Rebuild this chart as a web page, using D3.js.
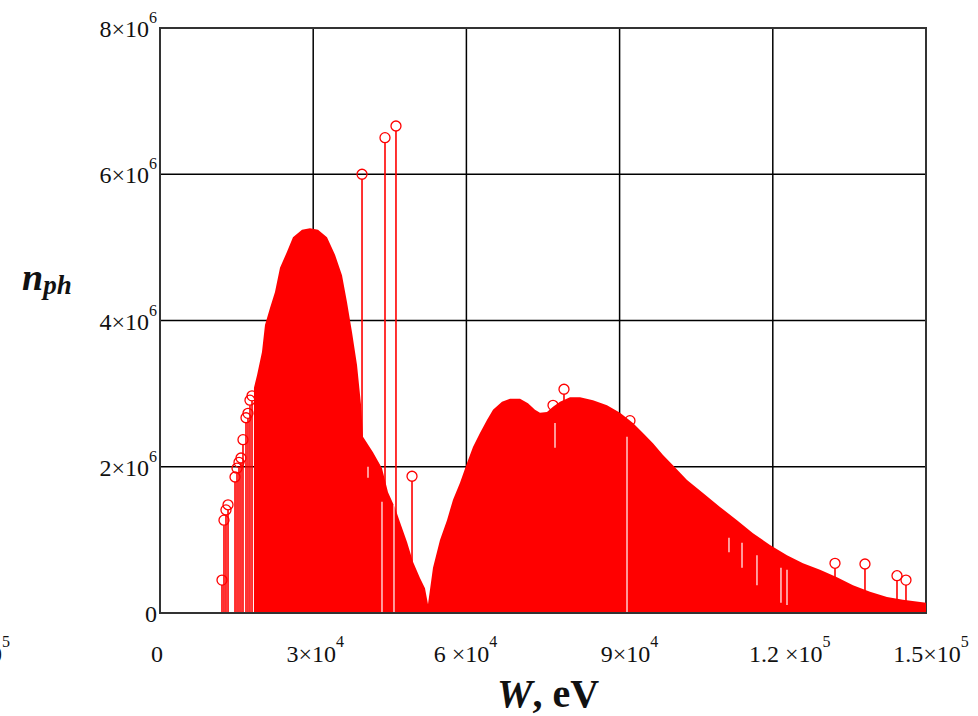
<!DOCTYPE html>
<html>
<head>
<meta charset="utf-8">
<script src="https://cdn.jsdelivr.net/npm/d3@7"></script>
<style>
  body { margin: 0; background: #fff; }
  text { font-family: "Liberation Serif", "Times New Roman", serif; fill: #111; }
</style>
</head>
<body>
<script>
// upper edge of the dense spectrum: photon energy W (eV) and n_ph (x10^6)
const envW = [18400, 19000, 19970, 20560, 21540, 22520, 23500, 24870, 26040, 27810,
  29370, 30940, 32700, 34270, 35640, 36620, 37600, 38580, 39360, 39750,
  41710, 43470, 44650, 46020, 47000, 48370, 49540, 50910, 51890, 52480,
  53460, 54830, 56200, 57380, 58750, 60120, 61290, 62660, 64030, 65210,
  66970, 68540, 70500, 72060, 73430, 74410, 75780, 76960, 78330, 80290,
  82250, 84790, 87530, 90080, 92620, 94580, 96540, 98500, 100450, 103200,
  106330, 109660, 112990, 116120, 119450, 122780, 125910, 129240, 132570, 135700,
  139030, 142360, 145490, 150000];
const envN = [3.08, 3.25, 3.57, 3.94, 4.17, 4.39, 4.72, 4.94, 5.14, 5.24,
  5.26, 5.24, 5.14, 4.90, 4.62, 4.25, 3.84, 3.39, 2.85, 2.41,
  2.20, 1.98, 1.65, 1.44, 1.24, 0.97, 0.70, 0.48, 0.34, 0.12,
  0.62, 1.00, 1.27, 1.55, 1.78, 2.05, 2.27, 2.46, 2.64, 2.78,
  2.89, 2.93, 2.93, 2.87, 2.78, 2.74, 2.75, 2.82, 2.89, 2.95,
  2.95, 2.91, 2.84, 2.74, 2.60, 2.46, 2.32, 2.16, 2.02, 1.82,
  1.64, 1.45, 1.27, 1.09, 0.93, 0.79, 0.68, 0.59, 0.49, 0.38,
  0.29, 0.22, 0.18, 0.14];

// separate lines that stand out (stem + circle)
const stemW = [12140, 12530, 12920, 13320, 14690, 15080, 15470, 15860, 16250, 16840,
  17230, 17620, 18020, 39560, 44060, 46210, 49350, 76960, 79110, 92030,
  132180, 138050, 144320, 146080];
const stemN = [0.45, 1.27, 1.41, 1.48, 1.86, 1.98, 2.06, 2.12, 2.37, 2.67,
  2.73, 2.91, 2.97, 6.00, 6.50, 6.66, 1.87, 2.84, 3.06, 2.63,
  0.68, 0.67, 0.51, 0.45];

// short lines missing inside the filled part
const gapW = [40730, 43470, 45820, 77350, 91450, 111420, 113970, 116900, 121600, 122780];
const gapTop = [2.0, 1.52, 1.48, 2.6, 2.41, 1.03, 0.96, 0.79, 0.62, 0.59];
const gapBottom = [1.85, 0, 0, 2.26, 0, 0.83, 0.62, 0.38, 0.14, 0.11];

const xTicks = [0, 30000, 60000, 90000, 120000, 150000];
const xTickMant = ["0", "3×10", "6 ×10", "9×10", "1.2 ×10", "1.5×10"];
const xTickExp = ["", "4", "4", "4", "5", "5"];
const yTicks = [0, 2, 4, 6, 8];
const yTickMant = ["0", "2×10", "4×10", "6×10", "8×10"];
const yTickExp = ["", "6", "6", "6", "6"];

const margin = { top: 28, right: 52, bottom: 103, left: 160 };
const width = 978 - margin.left - margin.right;
const height = 716 - margin.top - margin.bottom;
// small label shifts to follow the original placement
const xLabelNudge = [-3, 2, -1, 10, 17, 5];

const svg = d3
  .select("body")
  .append("svg")
  .attr("width", 978)
  .attr("height", 716);

const xScale = d3.scaleLinear().domain([0, 150000]).range([0, width]);
const yScale = d3.scaleLinear().domain([0, 8]).range([height, 0]);

const g = svg
  .append("g")
  .attr("transform", "translate(" + margin.left + "," + margin.top + ")");

// grid
g.selectAll(".vgrid")
  .data(xTicks.slice(1, -1))
  .enter()
  .append("line")
  .attr("x1", (d) => xScale(d))
  .attr("x2", (d) => xScale(d))
  .attr("y1", 0)
  .attr("y2", height)
  .attr("stroke", "#000")
  .attr("stroke-width", 1.5);
g.selectAll(".hgrid")
  .data(yTicks.slice(1, -1))
  .enter()
  .append("line")
  .attr("x1", 0)
  .attr("x2", width)
  .attr("y1", (d) => yScale(d))
  .attr("y2", (d) => yScale(d))
  .attr("stroke", "#000")
  .attr("stroke-width", 1.5);

g.append("rect")
  .attr("x", 0)
  .attr("y", 0)
  .attr("width", width)
  .attr("height", height)
  .attr("fill", "none")
  .attr("stroke", "#333")
  .attr("stroke-width", 2);

// filled spectrum
const env = envW.map((w, i) => ({ w: w, n: envN[i] }));
const area = d3
  .area()
  .x((d) => xScale(d.w))
  .y0(yScale(0))
  .y1((d) => yScale(d.n));
g.append("path").datum(env).attr("d", area).attr("fill", "#ff0000");

const gaps = gapW.map((w, i) => ({ w: w, top: gapTop[i], bottom: gapBottom[i] }));
g.selectAll(".gap")
  .data(gaps)
  .enter()
  .append("line")
  .attr("x1", (d) => xScale(d.w))
  .attr("x2", (d) => xScale(d.w))
  .attr("y1", (d) => yScale(d.top))
  .attr("y2", (d) => yScale(d.bottom))
  .attr("stroke", "#fff")
  .attr("stroke-width", 1.2);

// stems with circle markers
const stems = stemW.map((w, i) => ({ w: w, n: stemN[i] }));
g.selectAll(".stem")
  .data(stems)
  .enter()
  .append("line")
  .attr("x1", (d) => xScale(d.w))
  .attr("x2", (d) => xScale(d.w))
  .attr("y1", yScale(0))
  .attr("y2", (d) => yScale(d.n) + 5)
  .attr("stroke", "#ff0000")
  .attr("stroke-width", 1.6);
g.selectAll(".marker")
  .data(stems)
  .enter()
  .append("circle")
  .attr("cx", (d) => xScale(d.w))
  .attr("cy", (d) => yScale(d.n))
  .attr("r", 5)
  .attr("fill", "none")
  .attr("stroke", "#ff0000")
  .attr("stroke-width", 1.3);

// bottom axis line on top of the fill
g.append("line")
  .attr("x1", 0)
  .attr("x2", width)
  .attr("y1", height)
  .attr("y2", height)
  .attr("stroke", "#333")
  .attr("stroke-width", 2);

// tick labels, Mathcad style a×10^b
const yLab = svg
  .selectAll(".ylab")
  .data(yTicks)
  .enter()
  .append("text")
  .attr("x", margin.left - 3)
  .attr("y", (d) => margin.top + yScale(d) + 9)
  .attr("text-anchor", "end");
yLab.append("tspan").attr("font-size", "24px").text((d, i) => yTickMant[i]);
yLab
  .append("tspan")
  .attr("font-size", "16px")
  .attr("dy", -14)
  .text((d, i) => yTickExp[i]);

const xLab = svg
  .selectAll(".xlab")
  .data(xTicks)
  .enter()
  .append("text")
  .attr("x", (d, i) => margin.left + xScale(d) + xLabelNudge[i])
  .attr("y", 662)
  .attr("text-anchor", "middle");
xLab.append("tspan").attr("font-size", "24px").text((d, i) => xTickMant[i]);
xLab
  .append("tspan")
  .attr("font-size", "16px")
  .attr("dy", -15)
  .text((d, i) => xTickExp[i]);

// leftover label clipped at the left edge
const stray = svg
  .append("text")
  .attr("x", 10)
  .attr("y", 662)
  .attr("text-anchor", "end");
stray.append("tspan").attr("font-size", "24px").text(xTickMant[5]);
stray.append("tspan").attr("font-size", "16px").attr("dy", -15).text(xTickExp[5]);

// axis titles
const yTitle = svg
  .append("text")
  .attr("x", 22)
  .attr("y", 290)
  .attr("font-weight", "bold")
  .attr("font-style", "italic");
yTitle.append("tspan").attr("font-size", "38px").text("n");
yTitle.append("tspan").attr("font-size", "27px").attr("dy", 4).text("ph");

const xTitle = svg
  .append("text")
  .attr("x", 497)
  .attr("y", 707)
  .attr("font-weight", "bold")
  .attr("font-size", "40px");
xTitle.append("tspan").attr("font-style", "italic").text("W");
xTitle.append("tspan").text(", eV");
</script>
</body>
</html>
